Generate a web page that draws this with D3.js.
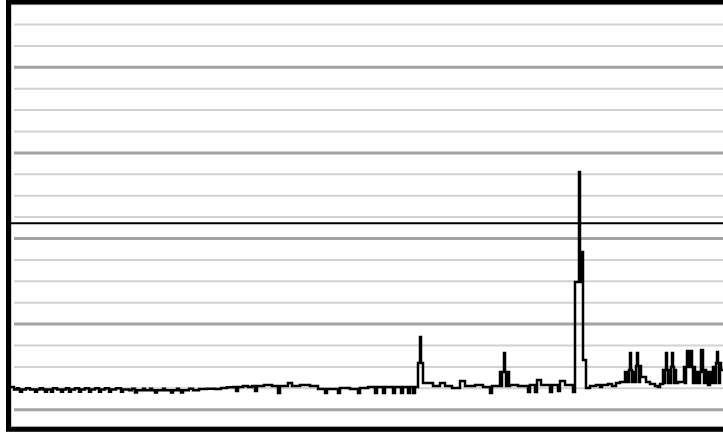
<!DOCTYPE html>
<html>
<head>
<meta charset="utf-8">
<script src="https://cdn.jsdelivr.net/npm/d3@7"></script>
<style>
  html, body { margin: 0; padding: 0; background: #fff; overflow: hidden; }
  svg { display: block; }
</style>
</head>
<body>
<div id="chart"></div>
<script>
// ---- data (step series: sample index where value changes, and the value) ----
const times = [
  0, 3, 6, 8, 9, 11, 15, 19, 24, 26,
  29, 32, 34, 36, 40, 42, 46, 50, 52, 55,
  58, 60, 64, 68, 70, 74, 78, 80, 84, 88,
  90, 94, 98, 100, 105, 110, 112, 118, 121, 124,
  126, 132, 134, 139, 141, 144, 146, 152, 154, 160,
  162, 166, 168, 170, 172, 178, 182, 188, 196, 204,
  210, 216, 222, 225, 227, 232, 237, 241,
  244, 246, 253, 261, 267, 269,
  277, 281, 289, 299, 307, 314, 316, 327, 329, 339,
  347, 349, 357, 364, 366, 372, 374, 382, 384, 390,
  392, 397, 399, 402, 404, 407, 409, 410, 412, 422,
  429, 434, 441, 449, 454, 464, 472, 479, 481, 489,
  490, 491, 493, 494, 495, 496, 498, 499, 507, 517,
  519, 524, 526, 530, 539, 541, 547, 549, 554, 562,
  564, 568, 569, 570, 571, 572, 575, 579, 585, 589,
  591, 597, 601, 605, 609, 614, 615, 616, 617, 618,
  619, 620, 621, 622, 623, 625, 626, 627, 628, 629,
  630, 635, 639, 644, 647, 649, 652, 653, 654, 655,
  656, 657, 658, 659, 660, 661, 662, 663, 664, 665,
  667, 673, 674, 675, 676, 677, 678, 679, 680, 681,
  682, 683, 684, 686, 687, 689, 690, 692, 693, 694,
  695, 696, 697, 699, 700, 702, 703, 705, 706, 707,
  708, 709, 710, 719
];
const values = [
  10.4, 9.2, 9.8, 9.2, 8.2, 9.2, 9.8, 9.2, 8.2, 9.2,
  9.8, 9.2, 8.2, 9.2, 8.2, 9.8, 9.2, 8.2, 9.2, 9.8,
  8.2, 9.2, 9.8, 8.2, 9.2, 9.8, 8.2, 9.2, 9.8, 8.2,
  9.2, 9.8, 8.2, 9.2, 9.8, 8.2, 9.2, 8.8, 9.6, 7.8,
  8.8, 9.6, 8.8, 9.6, 8.8, 7.8, 8.8, 9.6, 8.8, 7.8,
  8.8, 9.6, 8.8, 7.8, 8.8, 9.6, 8.8, 9.4, 9.6, 9.4,
  9.9, 10.2, 10.4, 8.5, 10.4, 10.8, 10.4, 10.8,
  8.5, 10.8, 11.3, 10.8, 7.6, 10.8,
  12.2, 10.8, 11.3, 10.8, 9.4, 7.6, 9.4, 7.6, 9.9, 9.4,
  7.6, 9.9, 10.4, 7.6, 10.4, 7.6, 10.4, 7.6, 10.4, 7.6,
  10.4, 7.6, 10.4, 7.6, 10.4, 21.6, 33.7, 21.6, 12.2, 10.8,
  12.2, 10.8, 9.9, 13.2, 10.8, 11.3, 10.4, 7.6, 10.8, 17.4,
  10.8, 17.4, 26.3, 17.4, 10.8, 17.4, 10.8, 11.3, 10.8, 8.0,
  11.3, 8.0, 13.6, 11.3, 8.0, 11.3, 8.5, 13.2, 11.3, 8.0,
  59.4, 110.8, 73.5, 59.4, 73.5, 23.0, 9.9, 10.8, 11.3, 10.4,
  11.3, 11.8, 10.8, 12.2, 12.7, 17.4, 12.7, 17.4, 12.7, 18.3,
  26.3, 18.3, 12.7, 17.4, 12.7, 20.2, 26.3, 20.2, 12.7, 20.2,
  15.0, 12.7, 11.8, 10.8, 10.4, 11.8, 18.3, 12.2, 18.3, 26.3,
  18.3, 12.2, 18.3, 12.2, 19.7, 26.3, 19.7, 12.2, 18.3, 12.2,
  12.7, 19.7, 12.2, 19.7, 27.2, 19.7, 27.2, 19.7, 27.2, 19.7,
  12.2, 19.7, 12.2, 17.4, 12.2, 17.4, 27.7, 17.4, 12.2, 18.3,
  12.2, 17.4, 11.3, 17.4, 12.2, 19.7, 12.2, 21.6, 26.7, 21.6,
  12.2, 21.6, 18.3, 18.3
];
const gridValues = d3.range(0, 191, 10);   // minor every 10, major every 40
const thresholdValue = 86.9;

// ---- layout ----
const W = 723, H = 435;
const svg = d3.select("#chart").append("svg").attr("width", W).attr("height", H);

const x = d3.scaleLinear().domain([0, 712]).range([11, 723]);
const y = d3.scaleLinear().domain([0, 180]).range([409.2, 24]);

// plot background inner light border
svg.append("rect")
  .attr("x", 11.5).attr("y", 4.8).attr("width", 800).attr("height", 421.5)
  .attr("fill", "#fff").attr("stroke", "#cfcfcf").attr("stroke-width", 1);

// gridlines via axis
const grid = svg.append("g")
  .attr("transform", "translate(14,0)")
  .call(d3.axisLeft(y).tickValues(gridValues).tickSize(-720).tickFormat(""));
grid.select(".domain").remove();
grid.selectAll(".tick line")
  .attr("stroke", d => d % 40 === 0 ? "#a3a3a3" : "#d2d2d2")
  .attr("stroke-width", d => d % 40 === 0 ? 3 : 2);

// threshold line
svg.append("line")
  .attr("x1", 11).attr("x2", 730)
  .attr("y1", y(thresholdValue)).attr("y2", y(thresholdValue))
  .attr("stroke", "#000").attr("stroke-width", 2);

// data step line
const n = Math.min(times.length, values.length);
const data = d3.range(n).map(i => ({ t: times[i], v: values[i] }));
svg.append("path")
  .datum(data)
  .attr("fill", "none")
  .attr("stroke", "#000")
  .attr("stroke-width", 2.5)
  .attr("d", d3.line().x(d => x(d.t)).y(d => y(d.v)).curve(d3.curveStepAfter));

// outer black frame
svg.append("rect")
  .attr("x", 8.5).attr("y", 2).attr("width", 800).attr("height", 427.3)
  .attr("fill", "none").attr("stroke", "#000").attr("stroke-width", 5);
</script>
</body>
</html>
